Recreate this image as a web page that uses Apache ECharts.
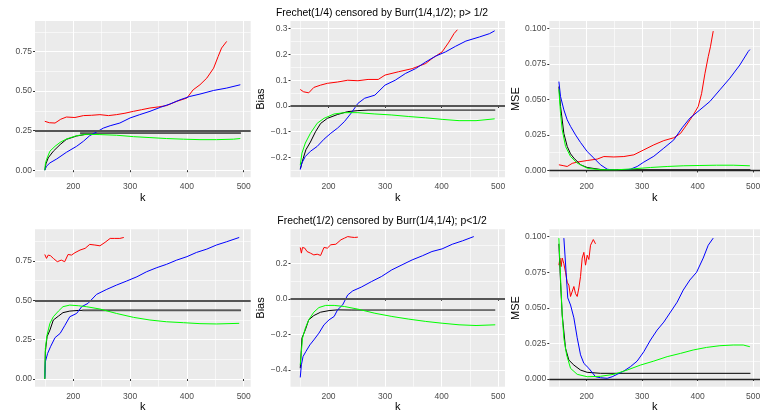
<!DOCTYPE html>
<html>
<head>
<meta charset="utf-8">
<script src="https://cdn.jsdelivr.net/npm/echarts@6/dist/echarts.min.js"></script>
<style>
  html, body { margin: 0; padding: 0; background: #fff; }
  #chart { width: 764px; height: 417px; }
</style>
</head>
<body>
<div id="chart"></div>
<script>
// titles
var title1 = 'Frechet(1/4) censored by Burr(1/4,1/2); p> 1/2';
var title2 = 'Frechet(1/2) censored by Burr(1/4,1/4); p<1/2';

// x axis (k) breaks
var kMajor = [200, 300, 400, 500];
var kMinor = [150, 250, 350, 450];

// y axis breaks per panel type
var estMajor1 = [0, 0.25, 0.5, 0.75];
var estMinor1 = [0.125, 0.375, 0.625, 0.875];
var biasMajor1 = [-0.2, -0.1, 0, 0.1, 0.2, 0.3];
var biasMinor1 = [-0.25, -0.15, -0.05, 0.05, 0.15, 0.25];
var mseMajor = [0, 0.025, 0.05, 0.075, 0.1];
var mseMinor = [0.0125, 0.0375, 0.0625, 0.0875];
var biasMajor2 = [-0.4, -0.2, 0, 0.2];
var biasMinor2 = [-0.3, -0.1, 0.1, 0.3];

// ---- row 1 : estimates ----
var est1Red = [[150,0.309],[158,0.300],[168,0.298],[178,0.322],[188,0.336],[203,0.333],[218,0.345],[232,0.347],[247,0.351],[262,0.345],[276,0.351],[291,0.360],[306,0.372],[320,0.382],[335,0.393],[350,0.400],[364,0.408],[382,0.435],[400,0.456],[411,0.508],[423,0.540],[435,0.582],[447,0.645],[455,0.719],[461,0.772],[470,0.814]];
var est1Blue = [[150,0.0],[153,0.025],[159,0.046],[171,0.071],[188,0.113],[206,0.151],[218,0.183],[229,0.218],[241,0.241],[253,0.266],[265,0.281],[282,0.298],[300,0.330],[317,0.351],[335,0.372],[353,0.397],[370,0.418],[388,0.445],[405,0.466],[423,0.481],[447,0.504],[470,0.519],[494,0.540]];
var est1Green = [[150,0.0],[151,0.04],[153,0.067],[159,0.120],[168,0.151],[177,0.176],[188,0.197],[206,0.218],[223,0.227],[247,0.225],[276,0.221],[306,0.212],[335,0.206],[364,0.200],[394,0.196],[423,0.193],[452,0.193],[482,0.196],[494,0.200]];
var est1Black = [[150,0.0],[152,0.04],[156,0.078],[165,0.120],[177,0.162],[188,0.195],[206,0.216],[223,0.227],[247,0.232],[280,0.234],[495,0.234]];
var est1Limit = [[212,0.234],[495,0.234]];

// ---- row 1 : bias ----
var bias1Red = [[150,0.064],[156,0.055],[165,0.051],[174,0.072],[186,0.081],[198,0.088],[216,0.093],[234,0.100],[252,0.098],[270,0.103],[288,0.103],[300,0.120],[324,0.133],[348,0.145],[372,0.165],[383,0.184],[401,0.210],[413,0.248],[422,0.281],[428,0.296]];
var bias1Blue = [[150,-0.247],[153,-0.221],[159,-0.196],[168,-0.176],[180,-0.157],[192,-0.129],[204,-0.106],[216,-0.086],[228,-0.061],[240,-0.028],[252,0.010],[264,0.030],[282,0.042],[300,0.081],[318,0.100],[336,0.126],[354,0.145],[372,0.171],[389,0.193],[407,0.210],[425,0.232],[443,0.252],[467,0.268],[485,0.281],[494,0.292]];
var bias1Green = [[150,-0.23],[153,-0.183],[159,-0.144],[168,-0.106],[180,-0.067],[192,-0.048],[210,-0.031],[228,-0.026],[252,-0.026],[282,-0.031],[312,-0.035],[342,-0.041],[372,-0.046],[401,-0.052],[431,-0.057],[461,-0.057],[494,-0.050]];
var bias1Black = [[150,-0.245],[155,-0.205],[160,-0.170],[168,-0.140],[177,-0.100],[186,-0.068],[198,-0.048],[216,-0.033],[234,-0.022],[252,-0.018],[270,-0.016],[495,-0.016]];

// ---- row 1 : MSE ----
var mse1Red = [[150,0.004],[159,0.0033],[165,0.0028],[174,0.005],[183,0.0059],[201,0.007],[219,0.008],[231,0.0098],[249,0.0095],[267,0.0098],[285,0.011],[303,0.0145],[321,0.018],[339,0.021],[357,0.023],[369,0.026],[380,0.032],[392,0.039],[401,0.045],[407,0.054],[413,0.068],[419,0.080],[423,0.087],[428,0.098]];
var mse1Blue = [[150,0.0625],[153,0.052],[159,0.0426],[165,0.0356],[171,0.031],[180,0.025],[189,0.0197],[201,0.0133],[213,0.0087],[225,0.004],[237,0.0009],[249,0.0002],[267,0.0002],[279,0.0009],[291,0.0028],[303,0.0059],[321,0.010],[339,0.0157],[357,0.0215],[372,0.030],[386,0.0368],[404,0.0426],[422,0.0485],[440,0.0567],[458,0.0649],[476,0.0742],[491,0.0836],[494,0.085]];
var mse1Green = [[150,0.057],[153,0.040],[156,0.0286],[162,0.0169],[171,0.0098],[183,0.0052],[201,0.0016],[225,0.0005],[255,0.0005],[285,0.0012],[315,0.0021],[345,0.0028],[375,0.0033],[404,0.0035],[434,0.0037],[464,0.0037],[494,0.0033]];
var mse1Black = [[150,0.059],[153,0.045],[159,0.026],[165,0.0169],[171,0.0117],[177,0.0087],[189,0.004],[201,0.0021],[225,0.0007],[250,0.0005],[495,0.0005]];

// ---- row 2 : estimates ----
var est2Red = [[150,0.792],[153,0.767],[156,0.788],[160,0.784],[165,0.767],[172,0.746],[179,0.756],[185,0.746],[191,0.792],[197,0.788],[203,0.803],[212,0.820],[221,0.831],[229,0.856],[238,0.852],[247,0.847],[256,0.869],[265,0.894],[273,0.894],[282,0.894],[289,0.900]];
var est2Blue = [[150,0.004],[151,0.11],[155,0.163],[160,0.205],[168,0.263],[177,0.29],[185,0.339],[194,0.396],[206,0.417],[215,0.460],[226,0.481],[241,0.538],[259,0.570],[276,0.597],[294,0.623],[312,0.650],[329,0.682],[347,0.708],[364,0.729],[382,0.756],[400,0.778],[417,0.805],[435,0.826],[452,0.852],[470,0.873],[492,0.900]];
var est2Green = [[150,0.0],[151,0.195],[154,0.28],[159,0.354],[165,0.396],[174,0.432],[182,0.460],[194,0.470],[209,0.466],[223,0.460],[247,0.445],[276,0.417],[306,0.392],[335,0.375],[364,0.364],[394,0.358],[423,0.352],[452,0.350],[492,0.354]];
var est2Black = [[150,0.0],[151,0.174],[154,0.269],[159,0.311],[165,0.375],[174,0.400],[182,0.422],[194,0.432],[209,0.436],[240,0.437],[495,0.437]];
var est2Limit = [[216,0.437],[495,0.437]];

// ---- row 2 : bias ----
var bias2Red = [[150,0.289],[152,0.257],[154,0.289],[158,0.285],[162,0.266],[168,0.257],[174,0.247],[180,0.251],[186,0.244],[192,0.289],[198,0.285],[204,0.304],[213,0.307],[222,0.332],[228,0.341],[234,0.350],[240,0.347],[246,0.345],[252,0.347]];
var bias2Blue = [[150,-0.442],[152,-0.371],[155,-0.324],[160,-0.296],[167,-0.259],[174,-0.231],[183,-0.193],[192,-0.146],[201,-0.118],[210,-0.099],[216,-0.062],[225,-0.034],[234,0.022],[243,0.045],[258,0.066],[276,0.097],[294,0.126],[312,0.163],[330,0.191],[348,0.219],[366,0.242],[383,0.266],[401,0.281],[419,0.307],[437,0.326],[457,0.350]];
var bias2Green = [[150,-0.371],[152,-0.296],[154,-0.221],[159,-0.165],[165,-0.118],[174,-0.075],[183,-0.049],[195,-0.037],[210,-0.037],[228,-0.043],[252,-0.058],[282,-0.081],[312,-0.099],[342,-0.114],[372,-0.127],[401,-0.137],[431,-0.146],[461,-0.150],[495,-0.146]];
var bias2Black = [[150,-0.39],[153,-0.221],[159,-0.174],[165,-0.118],[174,-0.094],[186,-0.075],[201,-0.066],[216,-0.062],[240,-0.063],[495,-0.063]];

// ---- row 2 : MSE ----
var mse2Red = [[150,0.080],[152,0.085],[154,0.079],[156,0.085],[159,0.081],[162,0.075],[165,0.068],[168,0.066],[171,0.058],[174,0.057],[177,0.065],[180,0.060],[183,0.058],[186,0.064],[189,0.072],[192,0.085],[195,0.089],[198,0.080],[201,0.087],[204,0.084],[207,0.094],[212,0.098],[216,0.095]];
var mse2Blue = [[159,0.099],[163,0.075],[166,0.057],[171,0.052],[177,0.043],[183,0.029],[189,0.017],[195,0.011],[204,0.0075],[216,0.0016],[225,0.0009],[237,0.0005],[246,0.0016],[255,0.0033],[267,0.0056],[279,0.0087],[291,0.0126],[303,0.0192],[315,0.0274],[327,0.0344],[339,0.040],[351,0.047],[363,0.054],[374,0.0625],[386,0.0696],[398,0.075],[410,0.085],[419,0.094],[428,0.099]];
var mse2Green = [[150,0.099],[153,0.071],[156,0.045],[159,0.0286],[164,0.0169],[171,0.0075],[183,0.0033],[201,0.0016],[225,0.0019],[249,0.0033],[273,0.0063],[297,0.0098],[321,0.0126],[345,0.0157],[369,0.018],[392,0.0204],[416,0.0222],[440,0.0234],[464,0.0239],[482,0.0239],[494,0.0227]];
var mse2Black = [[150,0.095],[153,0.068],[156,0.045],[162,0.0215],[168,0.0133],[177,0.0098],[189,0.0063],[201,0.0047],[225,0.004],[260,0.004],[495,0.004]];

// reference (true value) lines
var refLines = [0.25, 0, 0, 0.5, 0, 0];

var chart = echarts.init(document.getElementById('chart'));

function minus(s) { return s.replace('-', '\u2212'); }
function fmt(d) { return function (v) { return minus((+v).toFixed(d)); }; }

// panel layout (px), ggplot style
var panels = [
  { left: 35,    top: 21,    width: 215.7, height: 156.3, ymin: -0.045, ymax: 0.943, major: estMajor1,  minor: estMinor1,  dec: 2, name: '',     gap: 0,  ref: refLines[0], dark: false, limit: est1Limit, data: [est1Red, est1Blue, est1Green, est1Black] },
  { left: 290.5, top: 21,    width: 214.5, height: 156.3, ymin: -0.277, ymax: 0.330, major: biasMajor1, minor: biasMinor1, dec: 1, name: 'Bias', gap: 23, ref: refLines[1], dark: false, limit: null, data: [bias1Red, bias1Blue, bias1Green, bias1Black] },
  { left: 549.3, top: 21,    width: 210.7, height: 156.3, ymin: -0.0048, ymax: 0.1051, major: mseMajor, minor: mseMinor,   dec: 3, name: 'MSE',  gap: 27, ref: refLines[2], dark: true,  limit: null, data: [mse1Red, mse1Blue, mse1Green, mse1Black] },
  { left: 35,    top: 229.3, width: 215.7, height: 157.4, ymin: -0.049, ymax: 0.952, major: estMajor1,  minor: estMinor1,  dec: 2, name: '',     gap: 0,  ref: refLines[3], dark: false, limit: est2Limit, data: [est2Red, est2Blue, est2Green, est2Black] },
  { left: 290.5, top: 229.3, width: 214.5, height: 157.4, ymin: -0.494, ymax: 0.391, major: biasMajor2, minor: biasMinor2, dec: 1, name: 'Bias', gap: 23, ref: refLines[4], dark: false, limit: null, data: [bias2Red, bias2Blue, bias2Green, bias2Black] },
  { left: 549.3, top: 229.3, width: 210.7, height: 157.4, ymin: -0.0054, ymax: 0.1052, major: mseMajor, minor: mseMinor,   dec: 3, name: 'MSE',  gap: 27, ref: refLines[5], dark: true,  limit: null, data: [mse2Red, mse2Blue, mse2Green, mse2Black] }
];

var colors = ['#FF0000', '#0000FF', '#00FF00', '#000000'];
var zOrder = [3, 4, 5, 3.4];   // black sits under the grey limit segment
var font = 'Liberation Sans, Arial, sans-serif';

var grid = [], xAxis = [], yAxis = [], series = [];

panels.forEach(function (p, i) {
  grid.push({ left: p.left, top: p.top, width: p.width, height: p.height,
              show: true, backgroundColor: '#EBEBEB', borderWidth: 0 });

  // major x axis (carries the data)
  xAxis.push({
    gridIndex: i, type: 'value', min: 132.75, max: 512.25,
    name: 'k', nameLocation: 'middle', nameGap: 13,
    nameTextStyle: { color: '#000', fontSize: 11, fontFamily: font },
    axisLine: { show: false },
    axisTick: { show: true, length: 2, customValues: kMajor, lineStyle: { color: '#333', width: 1 } },
    axisLabel: { customValues: kMajor, color: '#4D4D4D', fontSize: 8.5, margin: 5, fontFamily: font },
    splitLine: { show: true, lineStyle: { color: '#FFFFFF', width: 1.1 } }
  });
  // minor x gridlines
  xAxis.push({
    gridIndex: i, type: 'value', min: 132.75, max: 512.25, position: 'top',
    axisLine: { show: false },
    axisTick: { show: false, customValues: kMinor },
    axisLabel: { show: false, customValues: kMinor },
    splitLine: { show: true, lineStyle: { color: '#FFFFFF', width: 0.6 } }
  });

  yAxis.push({
    gridIndex: i, type: 'value', min: p.ymin, max: p.ymax,
    name: p.name, nameLocation: 'middle', nameGap: p.gap,
    nameTextStyle: { color: '#000', fontSize: 11, fontFamily: font },
    axisLine: { show: false },
    axisTick: { show: true, length: 2, customValues: p.major, lineStyle: { color: '#333', width: 1 } },
    axisLabel: { customValues: p.major, color: '#4D4D4D', fontSize: 8.5, margin: 3, fontFamily: font, formatter: fmt(p.dec) },
    splitLine: { show: true, lineStyle: { color: '#FFFFFF', width: 1.1 } }
  });
  yAxis.push({
    gridIndex: i, type: 'value', min: p.ymin, max: p.ymax, position: 'right',
    axisLine: { show: false },
    axisTick: { show: false, customValues: p.minor },
    axisLabel: { show: false, customValues: p.minor },
    splitLine: { show: true, lineStyle: { color: '#FFFFFF', width: 0.6 } }
  });

  // flat limit segment, thick grey over the black curve, under blue/green
  if (p.limit) {
    series.push({
      type: 'line', xAxisIndex: 2 * i, yAxisIndex: 2 * i, data: p.limit,
      showSymbol: false, symbol: 'none', silent: true, animation: false,
      lineStyle: { color: '#595959', width: 1.8 }, z: 3.6
    });
  }

  p.data.forEach(function (d, j) {
    var s = {
      type: 'line', xAxisIndex: 2 * i, yAxisIndex: 2 * i, data: d,
      showSymbol: false, symbol: 'none', silent: true, animation: false,
      lineStyle: { color: colors[j], width: 1 }, z: zOrder[j]
    };
    if (j === 0) {
      s.markLine = {
        symbol: 'none', silent: true, animation: false, label: { show: false },
        lineStyle: { type: 'solid', color: p.dark ? '#222222' : '#555555', width: p.dark ? 1.4 : 1.8 },
        data: [{ yAxis: p.ref }]
      };
    }
    series.push(s);
  });
});

chart.setOption({
  animation: false,
  textStyle: { fontFamily: font },
  title: [
    { text: title1, left: 'center', top: 3, textStyle: { fontSize: 10.4, fontWeight: 'normal', color: '#000', fontFamily: font } },
    { text: title2, left: 'center', top: 211, textStyle: { fontSize: 10.4, fontWeight: 'normal', color: '#000', fontFamily: font } }
  ],
  grid: grid,
  xAxis: xAxis,
  yAxis: yAxis,
  series: series
});
</script>
</body>
</html>
